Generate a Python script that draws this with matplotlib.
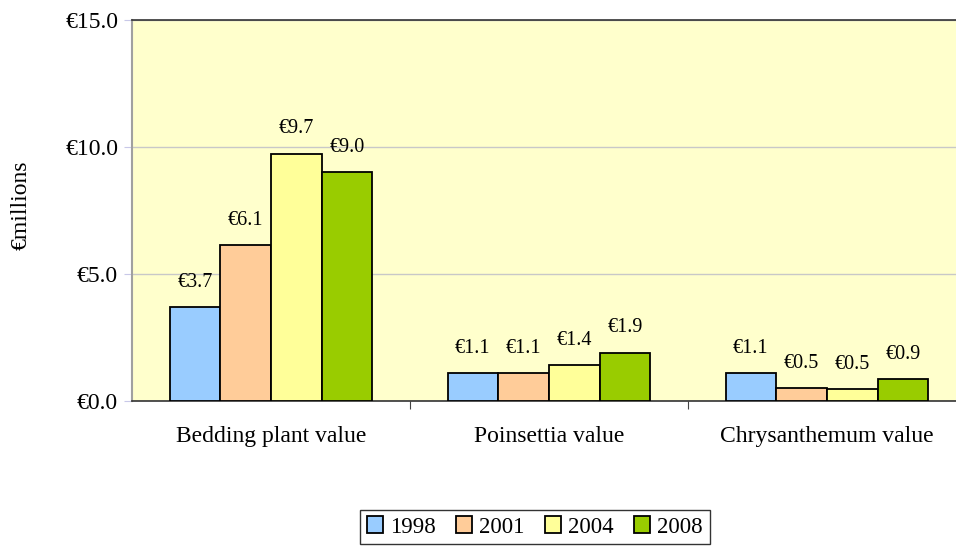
import matplotlib
matplotlib.use("Agg")
import matplotlib.pyplot as plt
import numpy as np

categories = ["Bedding plant value", "Poinsettia value", "Chrysanthemum value"]
years = ["1998", "2001", "2004", "2008"]
v1998 = [3.70, 1.10, 1.10]
v2001 = [6.14, 1.10, 0.51]
v2004 = [9.74, 1.40, 0.46]
v2008 = [9.02, 1.90, 0.87]
series = [v1998, v2001, v2004, v2008]
colors = ["#99CCFF", "#FFCC99", "#FFFF99", "#99CC00"]
yticks = [0, 5, 10, 15]
ytick_labels = ["€0.0", "€5.0", "€10.0", "€15.0"]

plt.rcParams['font.family'] = ['Liberation Serif', 'DejaVu Serif']

fig = plt.figure(figsize=(9.56, 5.46), dpi=100)
ax = fig.add_axes([132/956, 1-401/546, (966-132)/956, (401-20)/546])
ax.set_facecolor("#FFFFCC")

x = np.arange(len(categories))
bw = 0.1825
for i, (vals, c, yr) in enumerate(zip(series, colors, years)):
    pos = x + (i - 1.5) * bw
    ax.bar(pos, vals, width=bw, color=c, edgecolor="black", linewidth=1.3, label=yr, zorder=3)
    for p, v in zip(pos, vals):
        ax.annotate(f"€{v:.1f}", (p, v), xytext=(0, 11), textcoords="offset points",
                    ha="center", va="bottom", fontsize=14.5, zorder=4)

ax.set_xlim(-0.5, 2.5)
ax.set_ylim(0, 15)
ax.set_yticks(yticks)
ax.set_yticklabels(ytick_labels, fontsize=17)
ax.yaxis.grid(True, color="#C8C8C8", linewidth=1, zorder=0)
ax.set_axisbelow(True)
ax.set_xticks([0.5, 1.5])
ax.set_xticklabels([])
ax.tick_params(axis="x", length=6, color="#444444")
ax.tick_params(axis="y", length=6, color="#C8C8E8", pad=4)
for i, c in enumerate(categories):
    ax.text(i, -1.0, c, ha="center", va="top", fontsize=17)

for s in ["top", "right"]:
    ax.spines[s].set_visible(False)
ax.spines["left"].set_color("#A0A0A0")
ax.spines["left"].set_linewidth(1.5)
ax.spines["bottom"].set_color("#333333")
ax.spines["bottom"].set_linewidth(1.2)
ax.plot([-0.5, 2.5], [15, 15], color="#333333", linewidth=1.2, clip_on=False, zorder=5)

fig.text(21/956, 1-205/546, "€millions", rotation=90, ha="center", va="center", fontsize=17)

leg = fig.legend(loc="center", bbox_to_anchor=(535/956, 1-527/546), ncol=4, fontsize=16.5,
                 frameon=True, fancybox=False, edgecolor="black", handlelength=0.7,
                 handleheight=0.7, handletextpad=0.3, columnspacing=0.9, borderpad=0.3)
leg.get_frame().set_linewidth(1.0)

fig.savefig("out.png", dpi=100)
